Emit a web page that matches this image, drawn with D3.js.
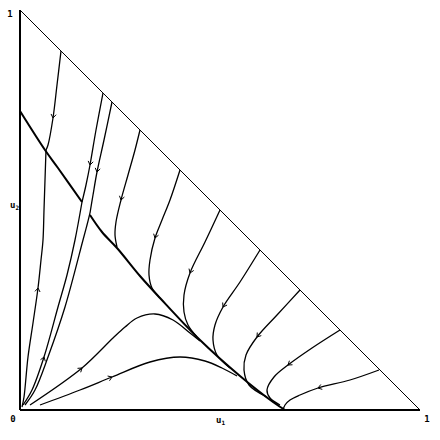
<!DOCTYPE html>
<html><head><meta charset="utf-8">
<script src="https://cdn.jsdelivr.net/npm/d3@7"></script>
<style>body{margin:0;background:#fff}svg{display:block}text{font-family:"DejaVu Sans Mono",monospace;font-weight:bold;fill:#000}</style>
</head><body>
<script>
// trajectories in (u1,u2) coordinates
const manifoldA = [[0,0.7475],[0.0625,0.65],[0.095,0.605],[0.155,0.52]];
const manifoldB = [[0.175,0.4875],[0.205,0.445],[0.2425,0.405],[0.3,0.335],[0.35,0.28],[0.45,0.175],[0.55,0.085],[0.6325,0.02],[0.6625,0]];
const upA = [[0.005,0.0075],[0.01,0.0325],[0.02,0.1325],[0.0325,0.2175],[0.045,0.305],[0.0525,0.375],[0.0575,0.425],[0.06,0.5],[0.0625,0.575],[0.065,0.65]];
const downA = [[0.1025,0.8975],[0.0925,0.8125],[0.0825,0.73],[0.07,0.6625],[0.065,0.65]];
const upB = [[0.0075,0.0125],[0.03,0.05],[0.06,0.1325],[0.095,0.2575],[0.1175,0.3375],[0.1375,0.425],[0.155,0.52]];
const downB = [[0.2075,0.7925],[0.19,0.7],[0.175,0.6125],[0.165,0.5625],[0.155,0.52]];
const upC = [[0.0125,0.0125],[0.0375,0.05],[0.07,0.1325],[0.1125,0.2575],[0.1575,0.425],[0.1675,0.4625],[0.175,0.4925]];
const downC = [[0.23,0.77],[0.21,0.675],[0.1925,0.595],[0.1825,0.5375],[0.175,0.4925]];
const rayA = [[0.025,0.0125],[0.155,0.105],[0.2325,0.18],[0.2625,0.2075],[0.2925,0.23],[0.3375,0.24],[0.3825,0.225],[0.425,0.1925],[0.45,0.1725]];
const rayB = [[0.05,0.0125],[0.15,0.05],[0.23,0.0825],[0.325,0.12],[0.4,0.1325],[0.4625,0.1225],[0.505,0.105],[0.5425,0.085]];
const top4 = [[0.3,0.7],[0.2875,0.65],[0.27,0.5875],[0.2525,0.525],[0.24,0.47],[0.2375,0.4375],[0.2425,0.4075]];
const top5 = [[0.4,0.6],[0.375,0.525],[0.355,0.475],[0.3375,0.43],[0.325,0.375],[0.3225,0.3375],[0.33,0.305],[0.35,0.28]];
const top6 = [[0.5,0.5],[0.4625,0.42],[0.425,0.3425],[0.41,0.2875],[0.41,0.245],[0.42,0.2125],[0.4425,0.1825]];
const top7 = [[0.6,0.4],[0.55,0.32],[0.5075,0.2575],[0.4875,0.2125],[0.4825,0.175],[0.4925,0.1375],[0.525,0.105]];
const top8 = [[0.7,0.3],[0.6425,0.2375],[0.5925,0.1825],[0.565,0.1375],[0.56,0.1],[0.5725,0.0625],[0.6175,0.0325]];
const top9 = [[0.8,0.2],[0.73,0.155],[0.67,0.1125],[0.635,0.0825],[0.6175,0.05],[0.625,0.03],[0.65,0.0125]];
const top10 = [[0.8975,0.1],[0.825,0.075],[0.745,0.055],[0.7,0.0375],[0.675,0.025],[0.6625,0.0125],[0.6575,0]];
// [trajectory, index of point carrying an arrow (-1 = none)]
const trajectories = [[upA,4],[downA,2],[upB,2],[downB,2],[upC,-1],[downC,2],[rayA,1],[rayB,2],
  [top4,3],[top5,3],[top6,2],[top7,2],[top8,2],[top9,2],[top10,2]];
const heavy = [manifoldA, manifoldB];
const tickLabels = ["0","1","1"];
const axisNames = ["u","u"];
const axisSubs = ["1","2"];

const W=440,H=440;
const svg=d3.select("body").append("svg").attr("width",W).attr("height",H);
const x=d3.scaleLinear().domain([0,1]).range([20,420]);
const y=d3.scaleLinear().domain([0,1]).range([410,10]);
const line=d3.line().x(d=>x(d[0])).y(d=>y(d[1])).curve(d3.curveCatmullRom);

// simplex frame
svg.append("line").attr("x1",x(0)).attr("x2",x(1)).attr("y1",y(0)).attr("y2",y(0)).attr("stroke","#000").attr("stroke-width",2);
svg.append("line").attr("x1",x(0)).attr("x2",x(0)).attr("y1",y(0)).attr("y2",y(1)).attr("stroke","#000").attr("stroke-width",2);
svg.append("line").attr("x1",x(0)).attr("x2",x(1)).attr("y1",y(1)).attr("y2",y(0)).attr("stroke","#000").attr("stroke-width",1);

svg.selectAll("path.h").data(heavy).join("path").attr("class","h").attr("d",line)
  .attr("fill","none").attr("stroke","#000").attr("stroke-width",2);
svg.selectAll("path.t").data(trajectories).join("path").attr("class","t").attr("d",d=>line(d[0]))
  .attr("fill","none").attr("stroke","#000").attr("stroke-width",1.3);

// arrowheads
trajectories.forEach(([pts,i])=>{
  if(i<0) return;
  const p=pts[i], a=pts[Math.max(0,i-1)], b=pts[Math.min(pts.length-1,i+1)];
  const px=x(p[0]), py=y(p[1]);
  const ang=Math.atan2(y(b[1])-y(a[1]), x(b[0])-x(a[0]));
  const L=4.5, s=0.6;
  const l1=[px-L*Math.cos(ang-s), py-L*Math.sin(ang-s)];
  const l2=[px-L*Math.cos(ang+s), py-L*Math.sin(ang+s)];
  svg.append("path").attr("d",`M${l1[0]},${l1[1]}L${px},${py}L${l2[0]},${l2[1]}`)
    .attr("fill","none").attr("stroke","#000").attr("stroke-width",1);
});

// labels
svg.append("text").attr("x",x(0)-7).attr("y",y(0)+12).attr("text-anchor","middle").attr("font-size",9).text(tickLabels[0]);
svg.append("text").attr("x",x(1)+7).attr("y",y(0)+12).attr("text-anchor","middle").attr("font-size",9).text(tickLabels[1]);
svg.append("text").attr("x",x(0)-10).attr("y",y(1)+7).attr("text-anchor","middle").attr("font-size",9).text(tickLabels[2]);
const t1=svg.append("text").attr("x",x(0.49)).attr("y",y(0)+13).attr("font-size",9);
t1.append("tspan").text(axisNames[0]);
t1.append("tspan").attr("dy",2).attr("font-size",6).text(axisSubs[0]);
const t2=svg.append("text").attr("x",x(0)-10).attr("y",y(0.505)).attr("font-size",9);
t2.append("tspan").text(axisNames[1]);
t2.append("tspan").attr("dy",2).attr("font-size",6).text(axisSubs[1]);
</script>
</body></html>
